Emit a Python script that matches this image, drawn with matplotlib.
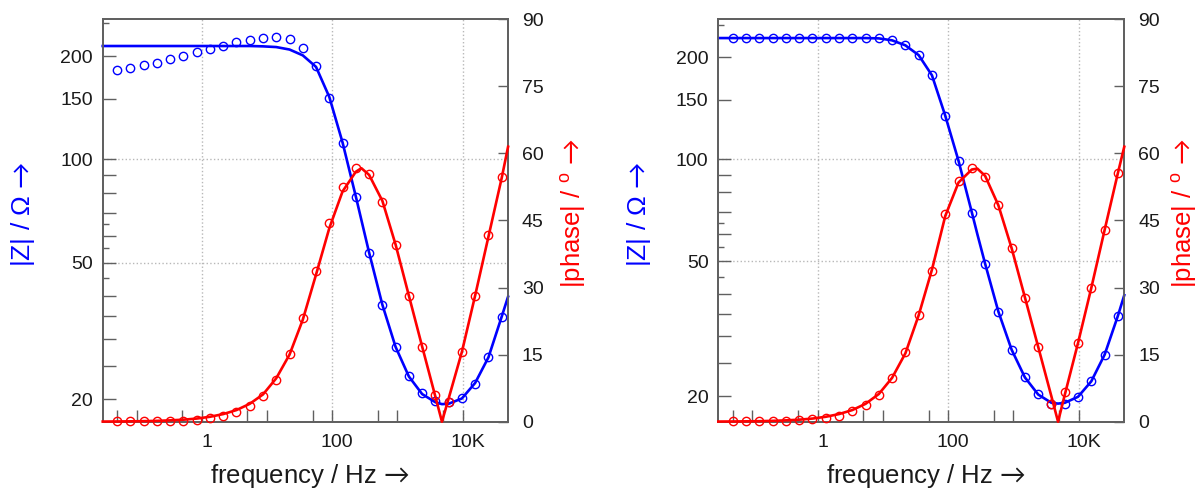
import numpy as np
import matplotlib
matplotlib.use('Agg')
import matplotlib.pyplot as plt
import matplotlib.transforms as mtransforms
from matplotlib.ticker import NullLocator, NullFormatter

plt.rcParams['font.family'] = ['Liberation Sans', 'DejaVu Sans']
plt.rcParams['mathtext.fontset'] = 'custom'
plt.rcParams['mathtext.rm'] = 'Liberation Sans'
plt.rcParams['mathtext.sf'] = 'Lato'
plt.rcParams['mathtext.fallback'] = 'cm'

ARROW = '$\\mathsf{\u2192}$'

# measured points (same frequencies in both panels)
freq = [0.05, 0.08, 0.128, 0.204, 0.326, 0.52, 0.83, 1.33, 2.12, 3.39,
        5.42, 8.66, 13.8, 22.1, 35.3, 56.4, 90.2, 144, 230, 368,
        588, 939, 1500, 2400, 3830, 6120, 9770, 15600, 25000, 39900]

z_left = [182, 184.8, 187.8, 191, 195.5, 199.8, 204.9, 209.5, 214.7, 219.5,
          222.9, 225.9, 227, 224, 211.8, 187.3, 151.1, 111.8, 77.7, 53.4,
          37.6, 28.4, 23.3, 20.8, 19.7, 19.6, 20.1, 22.2, 26.5, 34.8]
phase_left = [0.1, 0.1, 0.1, 0.1, 0.15, 0.2, 0.45, 0.82, 1.34, 2.16,
              3.43, 5.8, 9.4, 15.1, 23.3, 33.7, 44.4, 52.6, 56.7, 55.4,
              49.2, 39.6, 28.2, 16.7, 6.0, 4.4, 15.6, 28.2, 41.8, 54.8]

z_right = [228, 228, 228, 228, 228, 228, 228, 228, 228, 228,
           228, 227.5, 224.4, 216.8, 202.7, 176.9, 134.2, 98.9, 69.6, 49.0,
           35.4, 27.3, 22.7, 20.3, 18.9, 18.9, 19.9, 22.1, 26.5, 34.5]
phase_right = [0.1, 0.1, 0.1, 0.1, 0.1, 0.3, 0.6, 0.8, 1.34, 2.3,
               3.8, 6.0, 9.8, 15.6, 23.9, 33.8, 46.5, 53.9, 56.7, 54.8,
               48.4, 38.8, 27.6, 16.6, 4.0, 6.6, 17.6, 29.9, 42.9, 55.6]

# fitted curves
freq_fit = [0.03, 0.05, 0.08, 0.128, 0.204, 0.326, 0.52, 0.83, 1.33, 2.12,
            3.39, 5.42, 8.66, 13.8, 22.1, 35.3, 56.4, 90.2, 144, 230,
            280, 368, 588, 939, 1500, 2400, 3830, 4830, 6120, 9770,
            15600, 25000, 39900, 50000]

zfit_left = [214, 214, 214, 214, 214, 214, 214, 214, 214, 214,
             214, 214, 213.5, 212.5, 209, 201, 186, 152, 112, 78,
             66.6, 53.5, 37.7, 28.4, 23.3, 20.7, 19.6, 19.35, 19.4, 20.1,
             22.3, 26.5, 34.8, 39.8]
pfit_left = [0.03, 0.05, 0.08, 0.12, 0.19, 0.3, 0.45, 0.7, 1.1, 1.7,
             2.6, 4.0, 6.1, 9.7, 15.0, 22.8, 32.9, 43.3, 51.5, 55.9,
             56.7, 55.2, 49.4, 39.6, 28.2, 16.8, 5.6, 0.0, 5.2, 15.6,
             28.2, 41.4, 54.5, 61.5]

zfit_right = [228, 228, 228, 228, 228, 228, 228, 228, 228, 228,
              228, 228, 227.5, 224.5, 217, 203, 177, 134.5, 99, 69.8,
              60.1, 49.2, 35.5, 27.4, 22.7, 20.2, 19.1, 19.0, 19.1, 19.9,
              22.1, 26.5, 34.5, 39.7]
pfit_right = [0.03, 0.05, 0.08, 0.12, 0.19, 0.3, 0.45, 0.7, 1.1, 1.7,
              2.6, 4.0, 6.2, 9.8, 15.3, 23.8, 34.0, 46.0, 53.5, 56.4,
              56.6, 55.0, 48.4, 38.8, 27.8, 16.7, 5.6, 0.0, 6.0, 17.6,
              29.9, 42.9, 55.6, 61.5]

# axis setup
x_ticks = [0.05, 0.1, 0.5, 1, 5, 10, 50, 100, 500, 1000, 5000, 10000]
x_labels = ['', '', '', '1', '', '', '', '100', '', '', '', '10K']
x_grid = [1, 100, 10000]
z_major = [20, 25, 30, 35, 40, 50, 60, 70, 80, 90, 100, 150, 200]
z_major_labels = ['20', '', '', '', '', '50', '', '', '', '', '100', '150', '200']
z_minor = [45, 55, 65, 250]
z_grid = [50, 100]
phase_ticks = [0, 15, 30, 45, 60, 75, 90]

BLUE = '#0000ff'
RED = '#ff0000'
SPINE = '#606060'
TXT = '#1a1a1a'

fig = plt.figure(figsize=(12, 4.9), dpi=100)


def panel(rect, zlim, z, ph, zfit, pfit, phase_label_x):
    ax = fig.add_axes(rect)
    ax.set_xscale('log')
    ax.set_yscale('log')
    ax.set_xlim(0.03, 50000)
    ax.set_ylim(*zlim)

    for g in x_grid:
        ax.axvline(g, color='#b8b8b8', ls=':', lw=1, zorder=0)
    for g in z_grid:
        ax.axhline(g, color='#b8b8b8', ls=':', lw=1, zorder=0)

    ax.plot(freq_fit, zfit, color=BLUE, lw=1.9, clip_on=False, zorder=3)
    ax.plot(freq, z, 'o', mfc='none', mec=BLUE, ms=6, mew=1.0,
            clip_on=False, zorder=4)

    ax.set_xticks(x_ticks, x_labels)
    ax.xaxis.set_minor_locator(NullLocator())
    ax.set_yticks(z_major, z_major_labels)
    ax.set_yticks(z_minor, minor=True)
    ax.yaxis.set_minor_formatter(NullFormatter())

    ax.tick_params(axis='x', which='both', direction='in', length=9,
                   width=1, color=SPINE, labelcolor=TXT, labelsize=14,
                   pad=9, top=False)
    ax.tick_params(axis='y', which='major', direction='in', length=9,
                   width=1, color=SPINE, labelcolor=TXT, labelsize=14,
                   pad=7, right=False)
    ax.tick_params(axis='y', which='minor', direction='in', length=4,
                   width=1, color=SPINE, right=False)

    for s in ax.spines.values():
        s.set_color(SPINE)
        s.set_linewidth(1.3)

    ax.set_xlabel('frequency / Hz ' + ARROW, fontsize=18.5, color=TXT)
    ax.xaxis.set_label_coords(0.51, -0.1)
    ax.set_ylabel('|Z| / Ω ' + ARROW, fontsize=19, color=BLUE)
    ax.yaxis.set_label_coords(-0.162, 0.517)

    offset = mtransforms.ScaledTranslation(5 / 100, 0, fig.dpi_scale_trans)
    for lab in ax.get_xticklabels():
        lab.set_transform(lab.get_transform() + offset)

    ax2 = ax.twinx()
    ax2.set_ylim(0, 90)
    ax2.plot(freq_fit, pfit, color=RED, lw=1.9, clip_on=False, zorder=3)
    ax2.plot(freq, ph, 'o', mfc='none', mec=RED, ms=6, mew=1.0,
             clip_on=False, zorder=4)
    ax2.set_yticks(phase_ticks)
    ax2.tick_params(axis='y', direction='in', length=7, width=1,
                    color=SPINE, labelcolor=TXT, labelsize=14, pad=10)
    for s in ax2.spines.values():
        s.set_color(SPINE)
        s.set_linewidth(1.3)
    ax2.set_ylabel('|phase| / $^{\\mathrm{o}}$ ' + ARROW, fontsize=18.5,
                   color=RED)
    ax2.yaxis.set_label_coords(phase_label_x, 0.518)
    return ax, ax2


panel([0.0856, 0.1394, 0.3378, 0.8212], (17.2, 256),
      z_left, phase_left, zfit_left, pfit_left, 1.123)
panel([0.5986, 0.1394, 0.3383, 0.8212], (16.8, 259),
      z_right, phase_right, zfit_right, pfit_right, 1.112)

fig.savefig('out.png', dpi=100)
